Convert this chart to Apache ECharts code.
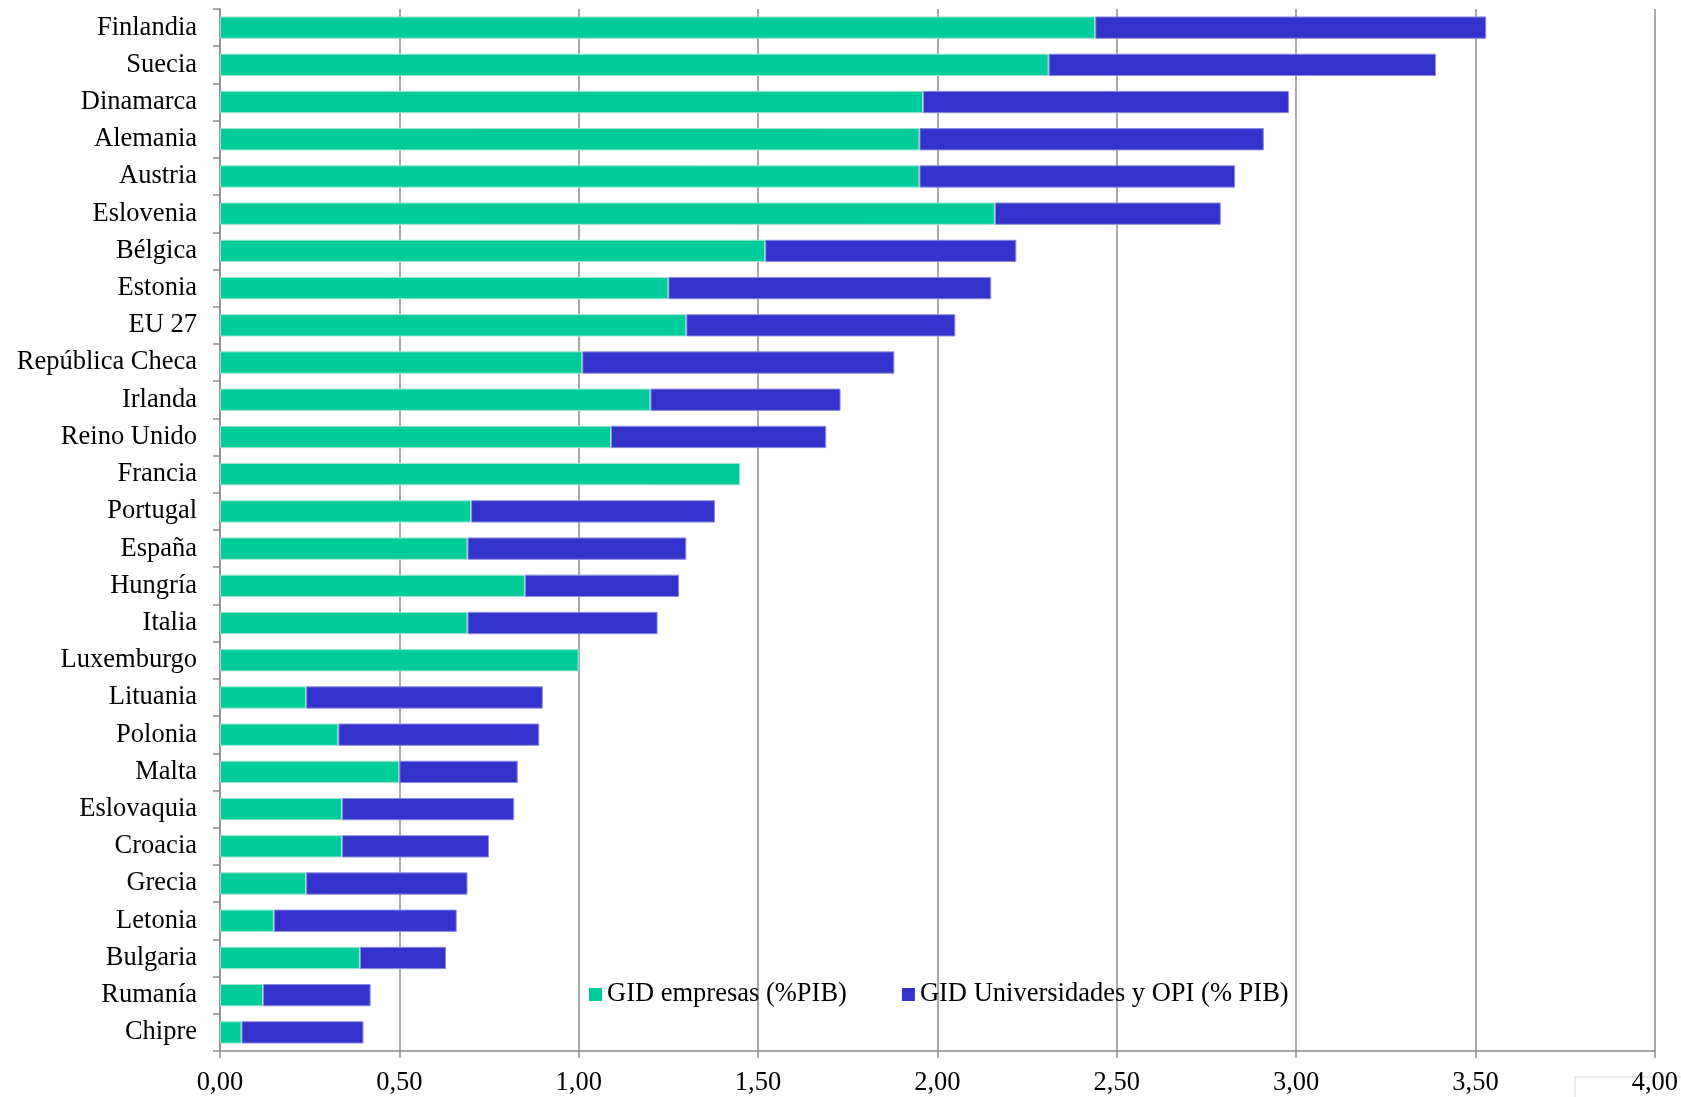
<!DOCTYPE html>
<html>
<head>
<meta charset="utf-8">
<script src="https://cdn.jsdelivr.net/npm/echarts@6/dist/echarts.min.js"></script>
<style>
html,body{margin:0;padding:0;background:#fff;}
#chart{width:1681px;height:1097px;}
</style>
</head>
<body>
<div id="chart"></div>
<script>
const countries = ['Finlandia','Suecia','Dinamarca','Alemania','Austria','Eslovenia','Bélgica','Estonia','EU 27','República Checa','Irlanda','Reino Unido','Francia','Portugal','España','Hungría','Italia','Luxemburgo','Lituania','Polonia','Malta','Eslovaquia','Croacia','Grecia','Letonia','Bulgaria','Rumanía','Chipre'];
const gidEmpresas = [2.44,2.31,1.96,1.95,1.95,2.16,1.52,1.25,1.30,1.01,1.20,1.09,1.45,0.70,0.69,0.85,0.69,1.00,0.24,0.33,0.50,0.34,0.34,0.24,0.15,0.39,0.12,0.06];
const gidUniversidades = [1.09,1.08,1.02,0.96,0.88,0.63,0.70,0.90,0.75,0.87,0.53,0.60,null,0.68,0.61,0.43,0.53,null,0.66,0.56,0.33,0.48,0.41,0.45,0.51,0.24,0.30,0.34];
const xTicks = [0,0.5,1,1.5,2,2.5,3,3.5,4];
const seriesNames = ['GID empresas (%PIB)','GID Universidades y OPI (% PIB)'];

const FONT = "'Liberation Serif', 'Times New Roman', serif";
const FS = 26.5;
const GRAY = '#8c8c8c';
const chart = echarts.init(document.getElementById('chart'));
chart.setOption({
  backgroundColor: '#ffffff',
  animation: false,
  textStyle: {fontFamily: FONT, color: '#000'},
  grid: {left: 220, right: 26, top: 9, bottom: 46, containLabel: false},
  legend: {
    data: seriesNames,
    left: 584, top: 976,
    icon: 'rect', itemWidth: 13, itemHeight: 13, itemGap: 55,
    itemStyle: {borderWidth: 0},
    textStyle: {fontFamily: FONT, fontSize: FS, color: '#000'},
    selectedMode: false
  },
  xAxis: {
    type: 'value',
    min: xTicks[0], max: xTicks[xTicks.length-1], interval: 0.5,
    axisLine: {show: true, lineStyle: {color: GRAY, width: 1.5}},
    axisTick: {show: true, length: 7, lineStyle: {color: GRAY, width: 1.5}},
    splitLine: {show: true, lineStyle: {color: GRAY, width: 1.5}},
    axisLabel: {
      fontFamily: FONT, fontSize: FS, color: '#000', margin: 19,
      formatter: v => v.toFixed(2).replace('.', ',')
    }
  },
  yAxis: {
    type: 'category',
    data: countries,
    inverse: true,
    axisLine: {show: true, lineStyle: {color: GRAY, width: 1.5}},
    axisTick: {show: true, length: 7, lineStyle: {color: GRAY, width: 1.5}},
    splitLine: {show: false},
    axisLabel: {fontFamily: FONT, fontSize: FS, color: '#000', margin: 23}
  },
  graphic: [{
    type: 'rect', z: -10, silent: true,
    shape: {x: 1575, y: 1077, width: 200, height: 60},
    style: {fill: '#ffffff', stroke: '#d6d6d6', lineWidth: 1}
  }],
  series: [
    {
      name: seriesNames[0], type: 'bar', stack: 'total',
      data: gidEmpresas, barCategoryGap: '40%',
      itemStyle: {color: '#00CC99', borderColor: '#9ee6d2', borderWidth: 1}
    },
    {
      name: seriesNames[1], type: 'bar', stack: 'total',
      data: gidUniversidades, barCategoryGap: '40%',
      itemStyle: {color: '#3333CC', borderColor: '#8c8ce0', borderWidth: 1}
    }
  ]
});
</script>
</body>
</html>
